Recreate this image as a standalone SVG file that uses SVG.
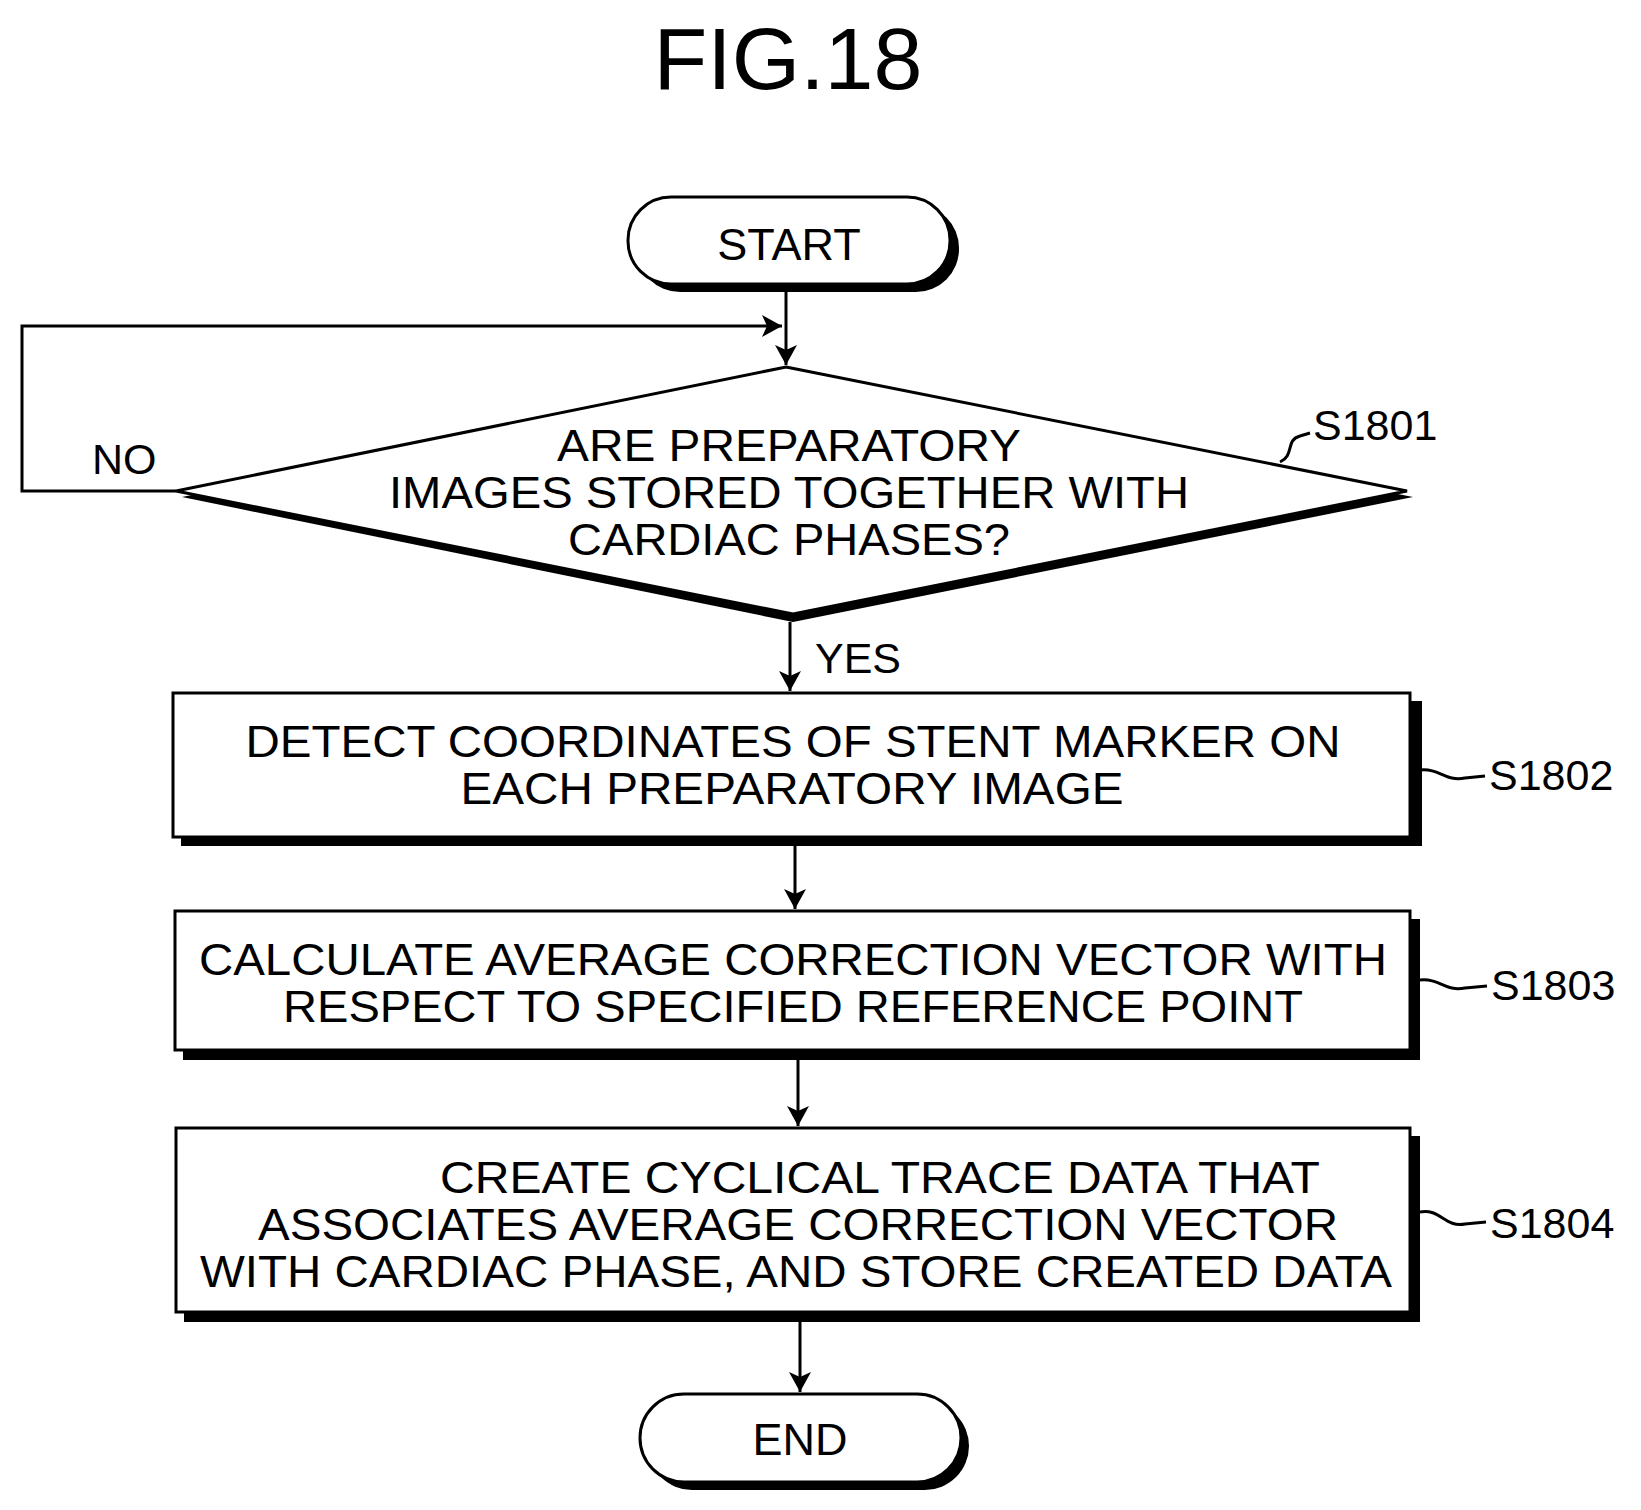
<svg xmlns="http://www.w3.org/2000/svg" width="1641" height="1510" viewBox="0 0 1641 1510">
<defs>
<marker id="ah" markerWidth="20" markerHeight="22" refX="20" refY="11" orient="auto" markerUnits="userSpaceOnUse" viewBox="0 0 20 22"><path d="M0,0 L20,11 L0,22 L5,11 Z" fill="#000"/></marker>
<style>
text{font-family:"Liberation Sans",Arial,sans-serif;fill:#000}
.t{font-size:45px;text-anchor:middle}
.l{font-size:43px}
.b{fill:#fff;stroke:#000;stroke-width:3}
.s{fill:#000}
.c{fill:none;stroke:#000;stroke-width:3}
</style>
</defs>
<rect width="1641" height="1510" fill="#fff"/>
<text x="788" y="89" font-size="88" text-anchor="middle">FIG.18</text>
<g id="start">
<rect class="s" x="637" y="205" width="322" height="87" rx="43"/>
<rect class="b" x="628" y="197" width="322" height="87" rx="43"/>
<text class="t" x="789" y="260">START</text>
</g>
<g id="s1801">
<polygon class="s" points="786,374 1413,497 793,622 182,497"/>
<polygon class="b" points="786,367 1407,491 793,614 176,491"/>
<text class="t" x="789" y="461" textLength="464" lengthAdjust="spacingAndGlyphs">ARE PREPARATORY</text>
<text class="t" x="789" y="508" textLength="800" lengthAdjust="spacingAndGlyphs">IMAGES STORED TOGETHER WITH</text>
<text class="t" x="789" y="555" textLength="442" lengthAdjust="spacingAndGlyphs">CARDIAC PHASES?</text>
<text class="l" x="1313" y="440">S1801</text>
</g>
<g id="s1802">
<rect class="s" x="181" y="701" width="1241" height="145"/>
<rect class="b" x="173" y="693" width="1237" height="144"/>
<text class="t" x="793" y="757" textLength="1095" lengthAdjust="spacingAndGlyphs">DETECT COORDINATES OF STENT MARKER ON</text>
<text class="t" x="792" y="804" textLength="663" lengthAdjust="spacingAndGlyphs">EACH PREPARATORY IMAGE</text>
<text class="l" x="1489" y="790">S1802</text>
</g>
<g id="s1803">
<rect class="s" x="183" y="919" width="1237" height="141"/>
<rect class="b" x="175" y="911" width="1235" height="139"/>
<text class="t" x="793" y="975" textLength="1188" lengthAdjust="spacingAndGlyphs">CALCULATE AVERAGE CORRECTION VECTOR WITH</text>
<text class="t" x="793" y="1022" textLength="1020" lengthAdjust="spacingAndGlyphs">RESPECT TO SPECIFIED REFERENCE POINT</text>
<text class="l" x="1491" y="1000">S1803</text>
</g>
<g id="s1804">
<rect class="s" x="184" y="1136" width="1236" height="186"/>
<rect class="b" x="176" y="1128" width="1234" height="184"/>
<text class="t" x="880" y="1193" textLength="880" lengthAdjust="spacingAndGlyphs">CREATE CYCLICAL TRACE DATA THAT</text>
<text class="t" x="798" y="1240" textLength="1080" lengthAdjust="spacingAndGlyphs">ASSOCIATES AVERAGE CORRECTION VECTOR</text>
<text class="t" x="796" y="1287" textLength="1192" lengthAdjust="spacingAndGlyphs">WITH CARDIAC PHASE, AND STORE CREATED DATA</text>
<text class="l" x="1490" y="1238">S1804</text>
</g>
<g id="end">
<rect class="s" x="648" y="1402" width="321" height="88" rx="44"/>
<rect class="b" x="640" y="1394" width="321" height="88" rx="44"/>
<text class="t" x="800" y="1455">END</text>
</g>
<g id="connectors">
<path class="c" d="M786,284 V365" marker-end="url(#ah)"/>
<path class="c" d="M176,491 H22 V326 H782" marker-end="url(#ah)"/>
<path class="c" d="M790,622 V691" marker-end="url(#ah)"/>
<path class="c" d="M795,846 V909" marker-end="url(#ah)"/>
<path class="c" d="M798,1060 V1126" marker-end="url(#ah)"/>
<path class="c" d="M800,1322 V1392" marker-end="url(#ah)"/>
<path class="c" d="M1280,462 C1295,455 1285,440 1300,436 L1310,433"/>
<path class="c" d="M1420,770 C1440,768 1445,782 1465,778 L1485,776"/>
<path class="c" d="M1420,980 C1440,978 1445,992 1465,988 L1487,986"/>
<path class="c" d="M1420,1212 C1440,1208 1445,1228 1465,1224 L1486,1222"/>
</g>
<text class="l" x="92" y="474">NO</text>
<text class="l" x="815" y="673">YES</text>
</svg>
